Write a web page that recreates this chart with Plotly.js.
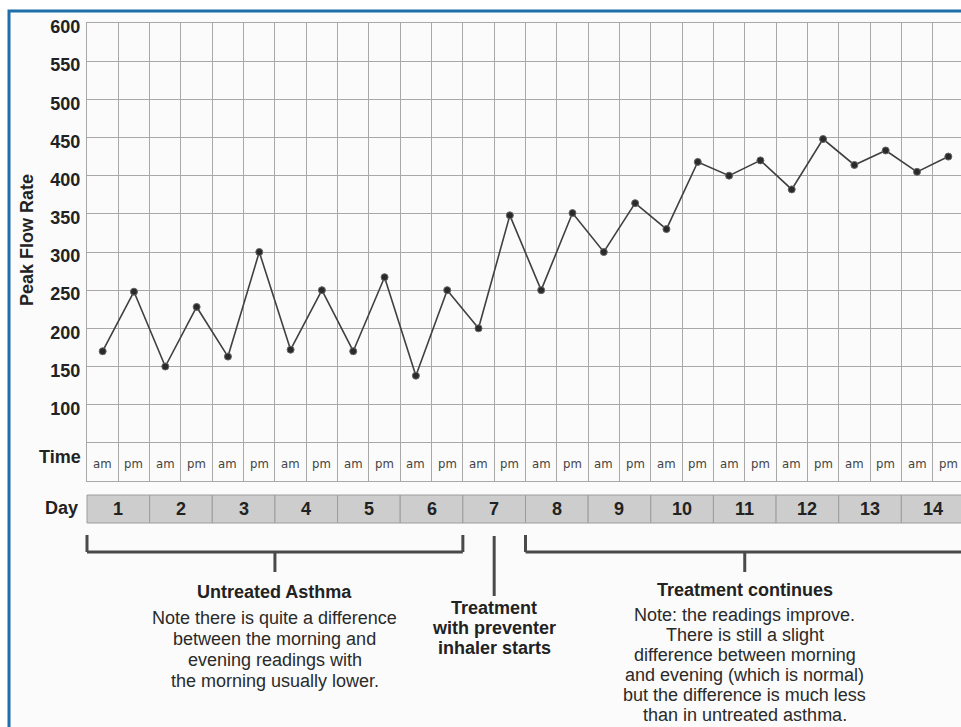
<!DOCTYPE html>
<html><head><meta charset="utf-8">
<script src="https://cdn.plot.ly/plotly-3.0.1.min.js"></script>
<style>html,body{margin:0;padding:0;overflow:hidden;background:#fff;width:961px;height:727px}#chart{width:964px;height:727px}</style>
</head><body><div id="chart"></div>
<script>
// ---------- data ----------
const days = [1,2,3,4,5,6,7,8,9,10,11,12,13,14];
const timeLabels = ['am','pm'];
const peakFlow = [170,248, 150,228, 163,300, 172,250, 170,267, 138,250, 200,348,
                  250,351, 300,364, 330,418, 400,420, 382,448, 414,433, 405,425];
const yTickVals = [0,50,100,150,200,250,300,350,400,450,500,550,600];
const yTickText = ['','','100','150','200','250','300','350','400','450','500','550','600'];
const yTitle = 'Peak Flow Rate';
const timeRowLabel = 'Time';
const dayRowLabel = 'Day';

const untreatedTitle = 'Untreated Asthma';
const untreatedLines = ['Note there is quite a difference','between the morning and','evening readings with','the morning usually lower.'];
const treatmentLines = ['Treatment','with preventer','inhaler starts'];
const continuesTitle = 'Treatment continues';
const continuesLines = ['Note: the readings improve.','There is still a slight','difference between morning','and evening (which is normal)','but the difference is much less','than in untreated asthma.'];
const untreatedDays = [1,6];
const treatmentDay = 7;
const continuesDays = [8,14];

// ---------- layout geometry ----------
const W = 964, H = 727, L = 87, R = 0, T = 23, B = 246;
const PW = W - L - R, PH = H - T - B;
const nCols = days.length * timeLabels.length;
const xRange = [0, nCols];
const xp = px => (px - L) / PW;
const yp = py => (H - B - py) / PH;
const colP = c => (c - xRange[0]) / (xRange[1] - xRange[0]);

const FONT = 'Liberation Sans, Arial, Helvetica, sans-serif';
const NARROW = 'Liberation Sans Narrow, Arial Narrow, DejaVu Sans Condensed, sans-serif';
const DARK = '#222';

const xs = [], timeTxt = [];
days.forEach((d, i) => timeLabels.forEach((t, j) => { xs.push(i * timeLabels.length + j + 0.5); timeTxt.push(t); }));

const trace = {
  x: xs, y: peakFlow, type: 'scatter', mode: 'lines+markers',
  line: {color: '#404040', width: 1.6},
  marker: {size: 7, color: '#2a2a2a', line: {color: '#666', width: 1}},
  hoverinfo: 'skip', cliponaxis: false
};

const shapes = [];
// frame / background
shapes.push({type: 'rect', xref: 'paper', yref: 'paper', layer: 'below',
  x0: xp(9), x1: 1.2, y0: -0.8, y1: yp(11), fillcolor: '#fbfbfb', line: {color: '#1d6ea9', width: 3}});
// day cells
days.forEach((d, i) => {
  shapes.push({type: 'rect', xref: 'paper', yref: 'paper',
    x0: colP(i * 2), x1: colP(i * 2 + 2), y0: yp(523), y1: yp(495),
    fillcolor: '#cdcdcd', line: {color: '#9c9c9c', width: 1}});
});
// brackets
const BR = {color: '#4a4a4a', width: 3};
function bracket(dayRange) {
  const s = colP((dayRange[0] - 1) * 2), e = colP(dayRange[1] * 2), m = (s + e) / 2;
  shapes.push({type: 'line', xref: 'paper', yref: 'paper', x0: s, x1: s, y0: yp(535), y1: yp(552), line: BR});
  shapes.push({type: 'line', xref: 'paper', yref: 'paper', x0: e, x1: e, y0: yp(535), y1: yp(552), line: BR});
  shapes.push({type: 'line', xref: 'paper', yref: 'paper', x0: s, x1: e, y0: yp(552), y1: yp(552), line: BR});
  shapes.push({type: 'line', xref: 'paper', yref: 'paper', x0: m, x1: m, y0: yp(552), y1: yp(572), line: BR});
  return m;
}
const uMid = bracket(untreatedDays);
const cMid = bracket(continuesDays);
const tMid = colP((treatmentDay - 1) * 2 + 1);
shapes.push({type: 'line', xref: 'paper', yref: 'paper', x0: tMid, x1: tMid, y0: yp(536), y1: yp(596), line: BR});

const annotations = [];
const bold = (size) => ({family: FONT, size: size, color: DARK, weight: 'bold'});
const A = (o) => Object.assign({showarrow: false, xanchor: 'center', yanchor: 'middle', borderpad: 0}, o);
// time labels
xs.forEach((x, i) => annotations.push(A({xref: 'x', yref: 'y', x: x, y: 23, text: timeTxt[i],
  font: {family: NARROW, size: 13, color: '#444'}})));
// day labels
days.forEach((d, i) => annotations.push(A({xref: 'x', yref: 'paper', x: i * 2 + 1, y: yp(509), text: String(d), font: bold(18)})));
annotations.push(A({xref: 'paper', yref: 'paper', x: xp(82), y: yp(457), xanchor: 'right', text: timeRowLabel, font: bold(18)}));
annotations.push(A({xref: 'paper', yref: 'paper', x: xp(79), y: yp(508), xanchor: 'right', text: dayRowLabel, font: bold(18)}));
annotations.push(A({xref: 'paper', yref: 'paper', x: xp(27), y: yp(240), textangle: -90, text: yTitle, font: bold(18)}));

function textBlock(xc, title, lines, y0, gap, step, boldLines) {
  if (title) annotations.push(A({xref: 'paper', yref: 'paper', x: xc, y: yp(y0), text: title, font: bold(18)}));
  lines.forEach((ln, i) => annotations.push(A({xref: 'paper', yref: 'paper', x: xc, y: yp(y0 + (title ? gap : 0) + i * step), text: ln,
    font: boldLines ? bold(18) : {family: FONT, size: 18, color: '#2a2a2a'}})));
}
textBlock(uMid, untreatedTitle, untreatedLines, 592, 26, 21, false);
textBlock(tMid, null, treatmentLines, 608, 0, 20, true);
textBlock(cMid, continuesTitle, continuesLines, 590, 25, 20, false);

const layout = {
  width: W, height: H,
  margin: {l: L, r: R, t: T, b: B, pad: 0},
  paper_bgcolor: '#ffffff', plot_bgcolor: '#fdfdfd',
  showlegend: false,
  xaxis: {range: xRange, tickvals: Array.from({length: nCols + 1}, (_, i) => i), showticklabels: false,
    showgrid: true, gridcolor: '#a8a8a8', gridwidth: 1, zeroline: false, ticks: '',
    showline: true, mirror: true, linecolor: '#a8a8a8', linewidth: 1, fixedrange: true},
  yaxis: {range: [0, 600], tickvals: yTickVals, ticktext: yTickText, showgrid: true, gridcolor: '#a8a8a8', gridwidth: 1,
    zeroline: false, ticks: '', ticklabelstandoff: 2, ticklabelshift: 4,
    tickfont: {family: FONT, size: 18, color: DARK, weight: 'bold'},
    showline: true, mirror: true, linecolor: '#a8a8a8', linewidth: 1, fixedrange: true},
  shapes: shapes,
  annotations: annotations
};
Plotly.newPlot('chart', [trace], layout, {displayModeBar: false, staticPlot: true});
</script>
</body></html>
